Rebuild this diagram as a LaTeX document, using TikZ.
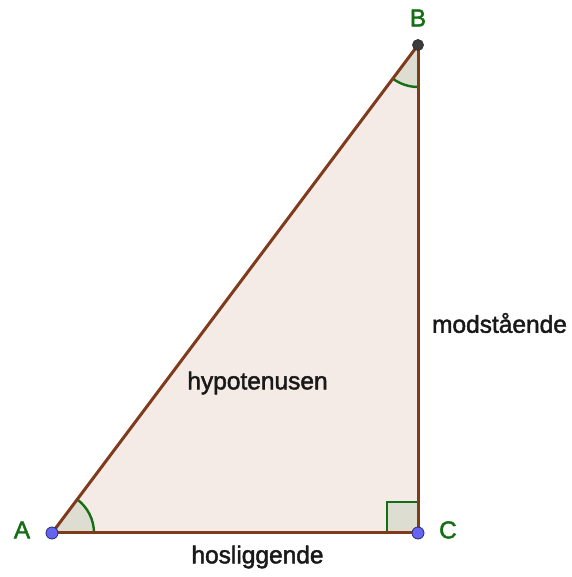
\documentclass[tikz,border=0pt]{standalone}
\usepackage{fontspec}
\setmainfont{Liberation Sans}
\newfontfamily\lblfont{Liberation Sans}[FakeBold=1.8]
\begin{document}
\begin{tikzpicture}[x=1pt,y=1pt,
  edge/.style={draw=edgebrown,line width=3pt},
  anglefill/.style={fill=anglegrey},
  anglearc/.style={draw=ggreen,line width=2.4pt},
  ptblue/.style={circle,fill=ptfill,draw=ptedge,line width=0.8pt,inner sep=0pt,minimum size=12pt},
  ptdark/.style={circle,fill=darkpt,draw=black!80,line width=0.8pt,inner sep=0pt,minimum size=11pt},
  ptlabel/.style={text=ggreen,font=\lblfont\fontsize{24.5}{28}\selectfont},
  sidelabel/.style={text=black!90,font=\lblfont\fontsize{24.5}{28}\selectfont}]
\definecolor{edgebrown}{RGB}{128,58,28}
\definecolor{trifill}{RGB}{244,234,230}
\definecolor{anglegrey}{RGB}{222,221,210}
\definecolor{ggreen}{RGB}{20,110,20}
\definecolor{ptfill}{RGB}{100,100,240}
\definecolor{ptedge}{RGB}{40,40,120}
\definecolor{darkpt}{RGB}{60,60,60}
\useasboundingbox (0,0) rectangle (571,577);
\coordinate (A) at (52,44);
\coordinate (C) at (418,44);
\coordinate (B) at (418,532);
% triangle fill
\fill[trifill] (A) -- (C) -- (B) -- cycle;
% angle at A
\fill[anglefill] (A) -- ++(42,0) arc[start angle=0,end angle=53.13,radius=42] -- cycle;
\draw[anglearc] (A) ++(42,0) arc[start angle=0,end angle=53.13,radius=42];
% angle at B
\fill[anglefill] (B) -- ++(233.13:42) arc[start angle=233.13,end angle=270,radius=42] -- cycle;
\draw[anglearc] (B) ++(233.13:42) arc[start angle=233.13,end angle=270,radius=42];
% right angle at C
\fill[anglefill] (C) rectangle ++(-31,31);
\draw[anglearc] (C) ++(-31,0) -- ++(0,31) -- ++(31,0);
% edges
\draw[edge] (A) -- (C);
\draw[edge] (C) -- (B);
\draw[edge] (B) -- (A);
% points
\node[ptblue] (pA) at (A) {};
\node[ptblue] (pC) at (C) {};
\node[ptdark] (pB) at (B) {};
% labels
\node[ptlabel] (lA) at (22,47) {A};
\node[ptlabel] (lC) at (448,47) {C};
\node[ptlabel] (lB) at (418,559) {B};
\node[sidelabel] (hyp) at (257.5,194) {hypotenusen};
\node[sidelabel] (mod) at (499.5,254) {modstående};
\node[sidelabel] (hos) at (257.5,20) {hosliggende};
\end{tikzpicture}
\end{document}
